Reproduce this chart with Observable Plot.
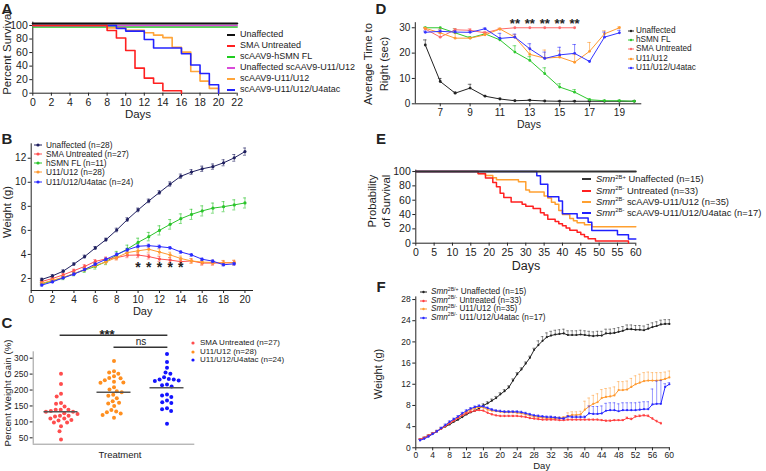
<!DOCTYPE html>
<html><head><meta charset="utf-8">
<script src="https://cdn.jsdelivr.net/npm/d3@7"></script>
<script src="https://cdn.jsdelivr.net/npm/@observablehq/plot@0.6"></script>
<style>
html,body{margin:0;padding:0;background:#fff;}
#fig{position:relative;width:766px;height:471px;overflow:hidden;font-family:"Liberation Sans",Arial,Helvetica,sans-serif;color:#222;background:#fff;}
.t{position:absolute;white-space:nowrap;line-height:1;}
.t.lg{line-height:0.8;}
.t sup{font-size:0.62em;vertical-align:0;position:relative;top:-0.6em;line-height:0;}
</style></head><body><div id="fig"></div>
<script>
// ================= DATA =================
// Panel A – Kaplan-Meier survival (day, percent)
const aXTicks = [0,2,4,6,8,10,12,14,16,18,20,22];
const aYTicks = [0,20,40,60,80,100];
const aNames = ["Unaffected","SMA Untreated","scAAV9-hSMN FL","Unaffected scAAV9-U11/U12","scAAV9-U11/U12","scAAV9-U11/U12/U4atac"];
const aUnaffected = [[0,100],[22,100]];
const aSMAUntreated = [[0,100],[8,92.6],[9,81.5],[10,63],[11,37],[12,22.2],[13,14.8],[14,3.7],[16,0]];
const aHSMN = [[0,100],[22,100]];
const aUnaffU11U12 = [[0,100],[22,100]];
const aU11U12 = [[0,100],[8,96.4],[10,92.9],[12,89.3],[13,85.7],[14,82.1],[15,67.9],[16,60.7],[17,32.1],[18,17.9],[19,7.1],[20,0]];
const aU11U12U4 = [[0,100],[9,95.8],[10,91.7],[12,79.2],[13,66.7],[16,58.3],[17,41.7],[18,29.2],[19,12.5],[20,0]];

// Panel B – weight (g) by day
const bDays = [1,2,3,4,5,6,7,8,9,10,11,12,13,14,15,16,17,18,19,20];
const bXTicks = [0,2,4,6,8,10,12,14,16,18,20];
const bYTicks = [2,4,6,8,10,12];
const bNames = ["Unaffected (n=28)","SMA Untreated (n=27)","hSMN FL (n=11)","U11/U12 (n=28)","U11/U12/U4atac (n=24)"];
const bUnaffected = [1.92,2.22,2.61,3.2,3.82,4.54,5.23,6.03,6.9,7.7,8.45,9.15,9.85,10.5,10.85,11.12,11.3,11.62,12.03,12.55];
const bUnaffectedErr = [0.1,0.1,0.1,0.1,0.12,0.12,0.12,0.15,0.15,0.15,0.15,0.15,0.18,0.18,0.2,0.22,0.22,0.25,0.28,0.3];
const bHSMN = [1.55,1.8,2.05,2.4,2.7,3.0,3.4,3.95,4.45,5.0,5.48,6.0,6.5,6.97,7.33,7.62,7.85,7.97,8.12,8.28];
const bHSMNErr = [0.1,0.12,0.15,0.18,0.2,0.22,0.25,0.3,0.32,0.35,0.35,0.38,0.4,0.4,0.42,0.42,0.42,0.42,0.42,0.42];
const bSMA = [1.75,2.0,2.3,2.65,3.0,3.42,3.63,3.73,3.93,3.95,3.82,3.62,3.53,3.4,3.46,3.28,3.28,3.3,3.32];
const bSMAErr = [0.1,0.1,0.12,0.12,0.15,0.15,0.15,0.18,0.2,0.22,0.2,0.2,0.2,0.2,0.18,0.18,0.18,0.18,0.18];
const bU11 = [1.6,1.85,2.1,2.4,2.75,3.08,3.38,3.75,4.15,4.3,4.43,4.2,3.96,3.66,3.46,3.36,3.33,3.3,3.32];
const bU11Err = [0.1,0.1,0.12,0.12,0.15,0.15,0.18,0.2,0.22,0.25,0.25,0.25,0.22,0.2,0.2,0.18,0.18,0.2,0.2];
const bU4 = [1.45,1.72,2.05,2.36,2.75,3.19,3.6,4.0,4.38,4.68,4.73,4.65,4.55,4.2,3.96,3.6,3.44,3.14,3.22];
const bU4Err = [0.08,0.08,0.08,0.1,0.1,0.1,0.1,0.12,0.12,0.12,0.12,0.12,0.1,0.1,0.1,0.1,0.1,0.1,0.1];
const bStarDays = [10,11,12,13,14];

// Panel C – percent weight gain per animal
const cGroups = ["SMA Untreated (n=27)","U11/U12 (n=28)","U11/U12/U4atac (n=24)"];
const cSMA = [251,219,188,180,159,157,148,138,138,138,134,132,132,127,125,119,117,119,111,111,106,104,98,98,86,71,45];
const cU11 = [291,259,255,251,243,238,237,231,226,224,223,209,202,196,193,185,182,174,165,160,158,150,137,133,130,126,122,113];
const cU4 = [313,288,270,255,251,240,235,233,233,230,228,217,215,211,186,183,178,167,162,159,143,140,134,94];
const cYTicks = [50,100,150,200,250,300];
const cSig = [{from:0,to:2,label:"***"},{from:1,to:2,label:"ns"}];

// Panel D – average time to right (sec)
const dDays = [6,7,8,9,10,11,12,13,14,15,16,17,18,19,20];
const dXTicks = [7,9,11,13,15,17,19];
const dYTicks = [0,10,20,30];
const dNames = ["Unaffected","hSMN FL","SMA Untreated","U11/U12","U11/U12/U4atac"];
const dUnaffected = [23.2,8.8,4.2,6.2,3.0,1.9,1.2,1.4,1.1,1.0,1.0,1.0,1.0,1.0,1.0];
const dUnaffectedErr = [2.0,1.2,0.5,1.5,0.3,0.3,0.2,0.2,0.1,0.1,0.1,0.1,0.1,0.1,0.1];
const dHSMN = [30,30,28,26,27.6,25.2,20.4,17.1,11.9,6.6,4.6,1.6,1.2,1.2,1.0];
const dHSMNErr = [0.2,0,1.6,0.5,0.5,0.8,2.5,1.5,2.3,1.3,1.0,0.3,0.2,0.2,0.1];
const dSMA = [29.5,26.3,29.2,29.0,28.0,29.5,30,30,30,30,30];
const dSMAErr = [0.3,1.5,0.5,0.6,0.5,0.3,0,0,0,0,0];
const dU11 = [29.8,28,25.9,25.9,27.2,29.5,26.3,19.5,18,18.4,16.4,20.7,27.6,30];
const dU11Err = [0.3,1.5,2.0,0.2,0.5,0.3,1.0,2.5,3.2,2.5,3.0,3.5,1.2,0.3];
const dU4 = [28.2,28.6,28.3,28.2,29.6,25.8,26.3,21.7,17.9,19.3,19.9,16.7,26.3,28];
const dU4Err = [0.5,0.5,0.5,0.5,0.3,2.0,1.2,2.0,2.5,3.0,3.5,0.3,2.0,1.0];
const dStarDays = [12,13,14,15,16];

// Panel E – probability of survival (day, percent)
const eXTicks = [0,5,10,15,20,25,30,35,40,45,50,55,60];
const eYTicks = [0,20,40,60,80,100];
const eUnaffected = [[0,100],[60,100]];
const eUntreated = [[0,100],[17,97],[19,90.9],[21,84.8],[22,78.8],[23,69.7],[24,63.6],[26,57.6],[29,54.5],[30,51.5],[32,48.5],[34,42.4],[35,39.4],[36,33.3],[38,30.3],[39,27.3],[40,24.2],[41,21.2],[42,18.2],[44,15.2],[45,12.1],[46,9.1],[47,6.1],[49,3],[58,0]];
const eU11 = [[0,100],[17,97.1],[19,94.3],[21,91.4],[22,88.6],[28,85.7],[30,74.3],[31,71.4],[35,65.7],[36,62.9],[37,57.1],[38,54.3],[39,45.7],[40,40],[42,34.3],[43,31.4],[44,28.6],[46,25.7],[48,22.9],[60,22.9]];
const eU4 = [[0,100],[33,94.1],[34,82.4],[36,64.7],[39,58.8],[40,41.2],[44,35.3],[47,29.4],[48,17.6],[55,11.8],[58,5.9],[60,5.9]];

// Panel F – weight (g) by day to P60
const fDays = [1,2,3,4,5,6,7,8,9,10,11,12,13,14,15,16,17,18,19,20,21,22,23,24,25,26,27,28,29,30,31,32,33,34,35,36,37,38,39,40,41,42,43,44,45,46,47,48,49,50,51,52,53,54,55,56,57,58,59,60];
const fXTicks = [0,4,8,12,16,20,24,28,32,36,40,44,48,52,56,60];
const fYTicks = [0,4,8,12,16,20,24,28];
const fUnaffected = [1.5,1.9,2.3,2.7,3.1,3.6,4.0,4.4,4.9,5.3, 5.8,6.3,6.7,7.0,7.5,8.0,8.4,8.9,9.4,10.1, 10.7,11.4,12.7,13.9,14.8,15.9,17.0,18.5,19.4,20.2, 20.9,21.2,21.4,21.5,21.6,21.3,21.3,21.3,21.4,21.3, 21.2,21.1,21.2,21.2,21.6,21.6,21.7,21.9,22.1,22.4, 22.4,22.3,22.3,22.2,22.5,22.8,23.0,23.3,23.4,23.4];
const fUnaffectedErr = [0.1,0.1,0.1,0.1,0.1,0.1,0.1,0.1,0.1,0.1, 0.1,0.1,0.1,0.1,0.1,0.3,0.3,0.3,0.3,0.3, 0.3,0.3,0.3,0.3,0.3,0.3,0.3,0.3,0.8,0.8, 0.8,0.8,0.8,0.8,0.8,0.8,0.8,0.8,0.8,0.8, 0.8,0.8,0.8,0.8,0.8,0.8,0.8,0.8,0.8,0.8, 0.8,0.8,0.8,0.8,0.8,0.8,0.8,0.8,0.8,0.8];
const fUntreated = [1.6,1.9,2.3,2.7,3.1,3.6,4.1,4.6,5.1,5.6, 6.1,6.5,6.8,7.0,7.1,7.0,6.6,6.3,6.1,6.0, 6.0,6.0,6.0,6.0,5.9,5.8,5.6,5.5,5.4,5.3, 5.3,5.3,5.3,5.2,5.2,5.3,5.3,5.3,5.3,5.3, 5.3,5.3,5.3,5.2,5.1,5.1,5.2,5.2,5.2,5.6, 5.4,5.9,6.0,6.1,6.0,5.5,5.0,4.6];
const fUntreatedErr = [0.1,0.1,0.1,0.1,0.1,0.1,0.1,0.1,0.1,0.1, 0.15,0.15,0.15,0.15,0.15,0.15,0.15,0.15,0.15,0.15, 0.15,0.15,0.15,0.15,0.15,0.15,0.15,0.15,0.15,0.15, 0.15,0.15,0.15,0.15,0.15,0.15,0.15,0.15,0.15,0.15, 0.15,0.15,0.15,0.15,0.15,0.15,0.15,0.15,0.15,0.2, 0.2,0.2,0.2,0.2,0.2,0.2,0.2,0.2];
const fU11 = [1.5,1.8,2.2,2.7,3.1,3.6,4.1,4.7,5.2,5.7, 6.2,6.8,7.2,7.5,7.7,7.6,7.2,7.0,6.9,6.8, 6.7,6.7,6.7,6.6,6.5,6.3,6.1,5.9,5.8,5.7, 5.6,5.6,5.6,5.6,5.7,6.0,6.2,6.2,6.3,7.2, 7.8,8.3,8.6,9.4,9.6,9.7,9.9,10.9,10.9,11.0, 11.5,12.0,12.3,12.6,12.7,12.7,12.7,12.8,13.0,13.3];
const fU11Err = [0.2,0.2,0.2,0.2,0.2,0.2,0.2,0.2,0.2,0.2, 0.2,0.2,0.2,0.2,0.2,0.2,0.2,0.2,0.2,0.2, 0.2,0.2,0.2,0.2,0.2,0.2,0.2,0.2,0.2,0.2, 0.2,0.2,0.2,0.2,0.2,0.6,0.6,0.6,0.6,1.6, 1.6,1.6,1.6,1.6,1.6,1.6,1.6,1.6,1.6,1.6, 1.6,1.6,1.6,1.6,1.6,1.5,1.5,1.4,1.3,1.2];
const fU4 = [1.4,1.7,2.1,2.6,3.1,3.7,4.3,4.9,5.4,5.9, 6.5,7.0,7.4,7.7,7.9,7.8,7.5,7.2,7.0,6.9, 6.8,6.8,6.8,6.8,6.7,6.5,6.3,6.1,6.0,5.9, 5.8,5.8,5.7,5.6,5.5,5.9,5.8,5.8,5.8,5.8, 6.5,6.4,6.4,6.5,7.0,7.1,7.1,6.9,7.1,7.1, 7.1,7.1,7.2,7.3,7.3,8.2,8.3,8.3,11.5,12.0];
const fU4Err = [0.2,0.2,0.2,0.2,0.2,0.2,0.2,0.2,0.2,0.2, 0.2,0.2,0.2,0.2,0.2,0.2,0.2,0.2,0.2,0.2, 0.2,0.2,0.2,0.2,0.2,0.2,0.2,0.2,0.2,0.2, 0.2,0.2,0.2,0.2,0.2,0.2,0.2,0.2,0.2,0.2, 1.4,1.4,1.4,1.4,1.4,1.4,1.4,1.4,1.4,1.4, 1.4,1.4,1.4,1.4,1.4,2.9,4.3,4.4,0.6,0.3];

// ================= HELPERS =================
const FONT = '"Liberation Sans", Arial, Helvetica, sans-serif';
const fig = document.getElementById("fig");
function mount(node, left, top) {
  node.style.position = "absolute"; node.style.left = left + "px"; node.style.top = top + "px";
  fig.appendChild(node);
}
function label(html, x, y, size, opts = {}) {
  const d = document.createElement("div");
  d.className = "t" + (opts.cls ? " " + opts.cls : ""); d.innerHTML = html;
  d.style.fontSize = size + "px";
  if (opts.weight) d.style.fontWeight = opts.weight;
  d.style.left = x + "px"; d.style.top = y + "px";
  d.style.transform = `translate(${opts.left ? "0" : "-50%"},-50%)` + (opts.rot ? ` rotate(${opts.rot}deg)` : "");
  fig.appendChild(d);
}
function legendRow(x, y, color, html, size, opts = {}) {
  const w = opts.w ?? 9, gap = opts.gap ?? 5, ns = "http://www.w3.org/2000/svg";
  const s = document.createElementNS(ns, "svg");
  s.setAttribute("width", w + 4); s.setAttribute("height", 8);
  s.style.cssText = `position:absolute;left:${x - 2}px;top:${y - 4}px;overflow:visible`;
  if (!opts.noLine) {
    const l = document.createElementNS(ns, "line");
    l.setAttribute("x1", 2); l.setAttribute("x2", 2 + w); l.setAttribute("y1", 4); l.setAttribute("y2", 4);
    l.setAttribute("stroke", color); l.setAttribute("stroke-width", opts.sw ?? 1.5);
    s.appendChild(l);
  }
  if (opts.dot) {
    const c = document.createElementNS(ns, "circle");
    c.setAttribute("cx", 2 + w / 2); c.setAttribute("cy", 4); c.setAttribute("r", opts.dot); c.setAttribute("fill", color);
    s.appendChild(c);
  }
  fig.appendChild(s);
  label(html, x + w + gap, y, size, {left: true, cls: "lg"});
}
const style = fs => ({fontFamily: FONT, fontSize: fs + "px", color: "#222", background: "transparent", overflow: "visible"});
const rows = (xs, vs, es) => vs.map((v, i) => ({x: xs[i], v, e: es ? es[i] : 0}));
function seriesMarks(data, color, o = {}) {
  const r = o.r ?? 1.6, sw = o.sw ?? 1, cap = o.cap ?? 1.5, upper = o.upper ?? false, eo = o.eo ?? 0.75;
  const withErr = data.filter(d => d.e > 0);
  const hi = d => d.v + d.e, lo = d => upper ? d.v : d.v - d.e;
  const m = [
    Plot.ruleX(withErr, {x: "x", y1: lo, y2: hi, stroke: color, strokeOpacity: eo, strokeWidth: 0.8}),
    Plot.ruleY(withErr, {x1: "x", x2: "x", y: hi, insetLeft: -cap, insetRight: -cap, stroke: color, strokeOpacity: eo, strokeWidth: 0.8})
  ];
  if (!upper) m.push(Plot.ruleY(withErr, {x1: "x", x2: "x", y: lo, insetLeft: -cap, insetRight: -cap, stroke: color, strokeOpacity: eo, strokeWidth: 0.8}));
  m.push(Plot.line(data, {x: "x", y: "v", stroke: color, strokeWidth: sw}));
  if (r > 0) m.push(Plot.dot(data, {x: "x", y: "v", fill: color, r}));
  return m;
}
const step = (pts, color, sw = 1.5, dy = 0) => Plot.line(pts, {x: d => d[0], y: d => d[1], curve: "step-after", stroke: color, strokeWidth: sw, dy});

// ================= PANEL A =================
const cA = {black: "#111", red: "#ff2020", green: "#1fcc1f", magenta: "#d94ad9", orange: "#ffa53a", blue: "#2323ff"};
mount(Plot.plot({
  width: 240, height: 125, marginLeft: 32.3, marginRight: 3.3, marginTop: 21.6, marginBottom: 32.3,
  style: style(10.5),
  x: {domain: [0, 22], ticks: aXTicks, tickSize: 3, tickPadding: 2, label: null},
  y: {domain: [0, 105], ticks: aYTicks, tickSize: 3, tickPadding: 2, label: null},
  marks: [
    Plot.ruleX([0], {stroke: "#222"}), Plot.ruleY([0], {stroke: "#222"}),
    step(aHSMN, cA.green, 1.5, 1.5),
    step(aUnaffU11U12, cA.magenta, 1.5, 0),
    step(aU11U12, cA.orange, 1.6),
    step(aU11U12U4, cA.blue, 1.6),
    step(aSMAUntreated, cA.red, 1.6),
    step(aUnaffected, cA.black, 2.2, -2)
  ]
}), 0, 0);
label("Percent Survival", 8, 53, 11.5, {rot: -90});
label("Days", 138, 115, 11.5);
[cA.black, cA.red, cA.green, cA.magenta, cA.orange, cA.blue].forEach((c, i) =>
  legendRow(227, 35 + i * 11, c, aNames[i], 9, {w: 8, gap: 5, sw: 2}));

// ================= PANEL B =================
const cB = ["#202060", "#ff5050", "#2bc42b", "#ff9a30", "#2a2aff"];
const bSeries = [
  rows(bDays, bUnaffected, bUnaffectedErr), rows(bDays, bSMA, bSMAErr), rows(bDays, bHSMN, bHSMNErr),
  rows(bDays, bU11, bU11Err), rows(bDays, bU4, bU4Err)
];
mount(Plot.plot({
  width: 260, height: 190, marginLeft: 30.7, marginRight: 7, marginTop: 15.3, marginBottom: 28,
  style: style(10),
  x: {domain: [0, 20.8], ticks: bXTicks, tickSize: 3, tickPadding: 2, label: null},
  y: {domain: [1, 13.2], ticks: bYTicks, tickSize: 3, tickPadding: 2, label: null},
  marks: [
    Plot.ruleX([0], {stroke: "#222"}), Plot.ruleY([1], {stroke: "#222"}),
    ...seriesMarks(bSeries[2], cB[2]),
    ...seriesMarks(bSeries[1], cB[1]),
    ...seriesMarks(bSeries[3], cB[3]),
    ...seriesMarks(bSeries[4], cB[4]),
    ...seriesMarks(bSeries[0], cB[0]),
    Plot.text(bStarDays, {x: d => d, frameAnchor: "bottom", dy: -19, text: () => "*", fontSize: 14, fontWeight: "bold", fill: "#222"})
  ]
}), 0, 128);
label("Weight (g)", 7.5, 212, 11.3, {rot: -90});
label("Day", 142.7, 311, 11);
bNames.forEach((n, i) => legendRow(34, [145, 154, 163, 172, 182][i], cB[i], n, 8.3, {w: 8, gap: 4, sw: 1, dot: 1.6}));

// ================= PANEL C =================
const cC = ["#ff4d4d", "#ff8f1f", "#1414ff"];
const cData = [
  ...cSMA.map(v => ({g: cGroups[0], v})),
  ...cU11.map(v => ({g: cGroups[1], v})),
  ...cU4.map(v => ({g: cGroups[2], v}))
];
const cDomain = [30, 320];
const cBox = {width: 200, height: 153, marginLeft: 32.7, marginRight: 5.7, marginTop: 33.3, marginBottom: 27.3};
mount(Plot.plot({
  ...cBox, style: style(8.5),
  y: {domain: cDomain, ticks: cYTicks, tickSize: 3, tickPadding: 2, label: null},
  x: {domain: [-0.5, 2.5], axis: null},
  marks: [
    Plot.ruleX([-0.5], {stroke: "#999"}), Plot.ruleY([cDomain[0]], {stroke: "#999"}),
    Plot.ruleY(cSig.slice(0, 1), {x1: d => d.from, x2: d => d.to, y: () => cDomain[1], dy: -16.6, stroke: "#333", strokeWidth: 1.5}),
    Plot.ruleY(cSig.slice(1), {x1: d => d.from, x2: d => d.to, y: () => cDomain[1], dy: -4.6, stroke: "#333", strokeWidth: 1.5}),
    Plot.text(cSig.slice(0, 1), {x: d => (d.from + d.to) / 2 - 0.13, y: () => cDomain[1], dy: -17, text: "label", fontSize: 13, fontWeight: "bold", fill: "#222"}),
    Plot.text(cSig.slice(1), {x: d => (d.from + d.to) / 2, y: () => cDomain[1], dy: -10, text: "label", fontSize: 10, fill: "#222"})
  ]
}), 0, 318);
mount(Plot.plot({
  ...cBox, style: style(8.5),
  facet: {data: cData, x: "g"},
  fx: {domain: cGroups, padding: 0, axis: null, label: null},
  y: {domain: cDomain, axis: null},
  marks: [
    Plot.dot(cData, Plot.dodgeX("middle", {y: "v", r: 2, padding: 2, fill: d => cC[cGroups.indexOf(d.g)]})),
    Plot.ruleY(cData, Plot.groupZ({y: "mean"}, {y: "v", stroke: "#555", strokeWidth: 1.5, insetLeft: 9.5, insetRight: 9.5}))
  ]
}), 0, 318);
label("Percent Weight Gain (%)", 7.5, 393, 9.7, {rot: -90});
label("Treatment", 120, 455, 9.5);
cGroups.forEach((n, i) => legendRow(191, [343.3, 352, 360.3][i], cC[i], n, 8, {w: 4, gap: 5, noLine: true, dot: 1.6}));

// ================= PANEL D =================
const cD = ["#222", "#2ec82e", "#ff6b6b", "#ff9a30", "#3535ff"];
const dDomain = [5.33, 20.5];
mount(Plot.plot({
  width: 260, height: 130, marginLeft: 31.8, marginRight: 1.7, marginTop: 22.2, marginBottom: 26.7,
  style: style(10),
  x: {domain: dDomain, ticks: dXTicks, tickSize: 3, tickPadding: 2, label: null},
  y: {domain: [0, 32], ticks: dYTicks, tickSize: 3, tickPadding: 2, label: null},
  marks: [
    Plot.ruleX([dDomain[0]], {stroke: "#222"}), Plot.ruleY([0], {stroke: "#222"}),
    ...seriesMarks(rows(dDays, dUnaffected, dUnaffectedErr), cD[0], {upper: true, r: 1.4, cap: 1.8}),
    ...seriesMarks(rows(dDays, dHSMN, dHSMNErr), cD[1], {upper: true, r: 1.4, cap: 1.8}),
    ...seriesMarks(rows(dDays, dSMA, dSMAErr), cD[2], {upper: true, r: 1.4, cap: 1.8}),
    ...seriesMarks(rows(dDays, dU11, dU11Err), cD[3], {upper: true, r: 1.4, cap: 1.8}),
    ...seriesMarks(rows(dDays, dU4, dU4Err), cD[4], {upper: true, r: 1.4, cap: 1.8}),
    Plot.text(dStarDays, {x: d => d, frameAnchor: "top", dy: -4, text: () => "**", fontSize: 13, fontWeight: "bold", fill: "#222"})
  ]
}), 383, 0);
label("Average Time to", 369, 64, 11.3, {rot: -90});
label("Right (sec)", 384.5, 64, 11.3, {rot: -90});
label("Days", 529, 124, 10.5);
dNames.forEach((n, i) => legendRow(628, [30.8, 40.1, 49.4, 58.7, 68][i], cD[i], n, 8.2, {w: 6, gap: 2, sw: 1, dot: 1.2}));

// ================= PANEL E =================
const cE = ["#333", "#ff2020", "#ffa030", "#2020ff"];
mount(Plot.plot({
  width: 260, height: 125, marginLeft: 32.3, marginRight: 7.7, marginTop: 19.6, marginBottom: 32.3,
  style: style(10.5),
  x: {domain: [0, 60], ticks: eXTicks, tickSize: 3, tickPadding: 2, label: null},
  y: {domain: [0, 102], ticks: eYTicks, tickSize: 3, tickPadding: 2, label: null},
  marks: [
    Plot.ruleX([0], {stroke: "#222"}), Plot.ruleY([0], {stroke: "#222"}),
    step(eU11, cE[2], 1.5),
    step(eUntreated, cE[1], 1.5),
    step(eU4, cE[3], 1.5),
    step(eUnaffected, cE[0], 2)
  ]
}), 383, 150);
label("Probability", 373, 201, 11.3, {rot: -90});
label("of Survival", 386.5, 201, 11.3, {rot: -90});
label("Days", 526, 266, 12.5);
const eLegend = [
  "<i>Smn</i><sup>2B+</sup> Unaffected (n=15)",
  "<i>Smn</i><sup>2B-</sup> Untreated (n=33)",
  "<i>Smn</i><sup>2B-</sup> scAAV9-U11/U12 (n=35)",
  "<i>Smn</i><sup>2B-</sup> scAAV9-U11/U12/U4atac (n=17)"
];
eLegend.forEach((n, i) => legendRow(582, [179, 190.7, 201.7, 212.5][i], cE[i], n, 9.4, {w: 9, gap: 5, sw: 2}));

// ================= PANEL F =================
const cF = ["#222", "#ff4040", "#ff9a30", "#2a2aff"];
mount(Plot.plot({
  width: 290, height: 186, marginLeft: 32.3, marginRight: 3.3, marginTop: 11.4, marginBottom: 23.7,
  style: style(8.5),
  x: {domain: [0, 60.2], ticks: fXTicks, tickSize: 3, tickPadding: 1, label: null},
  y: {domain: [0, 28.5], ticks: fYTicks, tickSize: 3, tickPadding: 2, label: null},
  marks: [
    Plot.ruleX([0], {stroke: "#222"}), Plot.ruleY([0], {stroke: "#222"}),
    ...seriesMarks(rows(fDays, fUnaffected, fUnaffectedErr), cF[0], {upper: true, r: 1.1, cap: 1.3, eo: 0.6}),
    ...seriesMarks(rows(fDays, fU11, fU11Err), cF[2], {upper: true, r: 1.1, cap: 1.3, eo: 0.6}),
    ...seriesMarks(rows(fDays, fUntreated, fUntreatedErr), cF[1], {upper: true, r: 1.1, cap: 1.3, eo: 0.6}),
    ...seriesMarks(rows(fDays, fU4, fU4Err), cF[3], {upper: true, r: 1.1, cap: 1.3, eo: 0.6})
  ]
}), 383, 285);
label("Weight (g)", 378, 374, 11, {rot: -90});
label("Day", 541.7, 466, 9.5);
const fLegend = [
  "<i>Smn</i><sup>2B/+</sup> Unaffected (n=15)",
  "<i>Smn</i><sup>2B/-</sup> Untreated (n=33)",
  "<i>Smn</i><sup>2B/-</sup> U11/U12 (n=35)",
  "<i>Smn</i><sup>2B/-</sup> U11/U12/U4atac (n=17)"
];
fLegend.forEach((n, i) => legendRow(420, [292, 300.5, 309, 317.5][i], cF[i], n, 8.2, {w: 7, gap: 4, sw: 1, dot: 1.2}));

// ================= PANEL LETTERS =================
[["A", 7, 8], ["B", 7, 138], ["C", 7, 322], ["D", 381, 8], ["E", 381, 138], ["F", 381, 286]]
  .forEach(([t, x, y]) => label(t, x, y, 15, {weight: "900"}));
</script></body></html>
